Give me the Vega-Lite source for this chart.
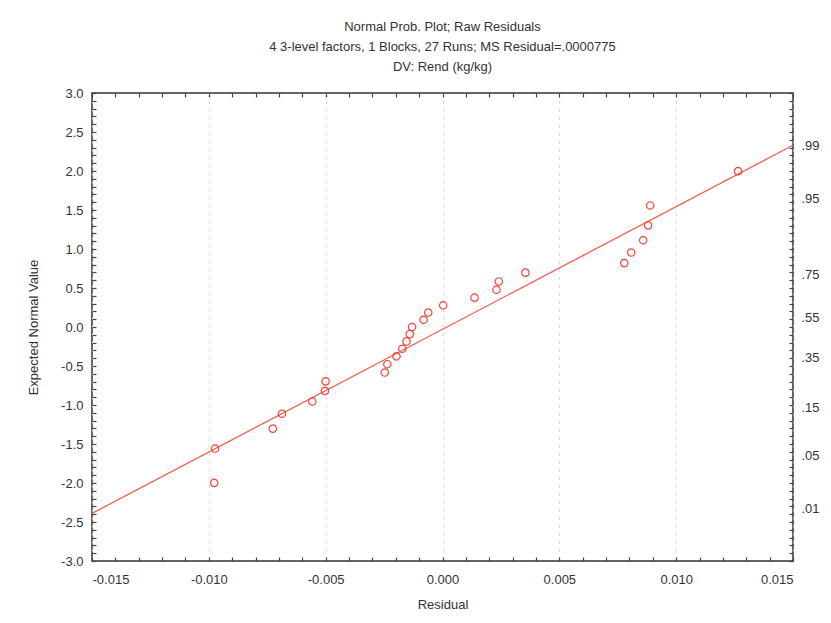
{
  "$schema": "https://vega.github.io/schema/vega-lite/v6.json",
  "autosize": "none",
  "padding": {"left": 92, "top": 93, "right": 38, "bottom": 62},
  "width": 701,
  "height": 468,
  "background": "white",
  "config": {
    "font": "Liberation Sans",
    "view": {"stroke": "#333333", "strokeWidth": 1.5},
    "axis": {"labelFont": "Liberation Sans", "titleFont": "Liberation Sans", "labelFontSize": 13, "titleFontSize": 13, "titleFontWeight": "normal", "labelColor": "#333333", "titleColor": "#333333"}
  },
  "title": {
    "text": ["Normal Prob. Plot; Raw Residuals", "4 3-level factors, 1 Blocks, 27 Runs; MS Residual=.0000775", "DV: Rend (kg/kg)"],
    "fontSize": 13,
    "fontWeight": "normal",
    "color": "#333333",
    "lineHeight": 20,
    "offset": 13,
    "anchor": "middle"
  },
  "datasets": {
    "points": [
      {"residual": 0.01265, "expected": 1.998},
      {"residual": 0.00889, "expected": 1.558},
      {"residual": 0.00880, "expected": 1.303},
      {"residual": 0.00859, "expected": 1.112},
      {"residual": 0.00808, "expected": 0.955},
      {"residual": 0.00778, "expected": 0.819},
      {"residual": 0.00355, "expected": 0.697},
      {"residual": 0.00241, "expected": 0.584},
      {"residual": 0.00231, "expected": 0.477},
      {"residual": 0.00137, "expected": 0.376},
      {"residual": 0.00003, "expected": 0.279},
      {"residual": -0.00061, "expected": 0.185},
      {"residual": -0.00081, "expected": 0.092},
      {"residual": -0.0013, "expected": 0.0},
      {"residual": -0.0014, "expected": -0.092},
      {"residual": -0.00154, "expected": -0.185},
      {"residual": -0.00172, "expected": -0.279},
      {"residual": -0.00197, "expected": -0.376},
      {"residual": -0.00236, "expected": -0.477},
      {"residual": -0.00247, "expected": -0.584},
      {"residual": -0.0050, "expected": -0.697},
      {"residual": -0.00503, "expected": -0.819},
      {"residual": -0.00557, "expected": -0.955},
      {"residual": -0.00687, "expected": -1.112},
      {"residual": -0.00726, "expected": -1.303},
      {"residual": -0.00973, "expected": -1.558},
      {"residual": -0.00977, "expected": -1.998}
    ],
    "fit": [
      {"residual": -0.015, "expected": -2.39},
      {"residual": 0.015, "expected": 2.33}
    ]
  },
  "resolve": {
    "scale": {"x": "independent", "y": "independent"},
    "axis": {"x": "independent", "y": "independent"}
  },
  "layer": [
    {
      "data": {"name": "fit"},
      "mark": {"type": "line", "color": "#f65e50", "strokeWidth": 1.3},
      "encoding": {
        "x": {"field": "residual", "type": "quantitative",
          "scale": {"domain": [-0.015, 0.015], "nice": false, "zero": false},
          "axis": {"orient": "bottom", "title": "Residual", "values": [-0.015, -0.01, -0.005, 0, 0.005, 0.01, 0.015],
            "format": ".3f", "labelExpr": "replace(datum.label, '\u2212', '-')", "ticks": false, "domain": false,
            "labelPadding": 12, "titlePadding": 12,
            "grid": true, "gridColor": "#c8c8c8", "gridDash": [2, 6], "gridWidth": 1}},
        "y": {"field": "expected", "type": "quantitative",
          "scale": {"domain": [-3, 3], "nice": false, "zero": false},
          "axis": {"orient": "left", "title": "Expected Normal Value", "values": [-3, -2.5, -2, -1.5, -1, -0.5, 0, 0.5, 1, 1.5, 2, 2.5, 3],
            "format": ".1f", "labelExpr": "replace(datum.label, '\u2212', '-')", "ticks": false, "domain": false,
            "labelPadding": 9, "titlePadding": 20, "grid": false}}
      }
    },
    {
      "data": {"name": "points"},
      "mark": {"type": "point", "shape": "circle", "filled": false, "color": "#f0463a", "size": 55, "strokeWidth": 1.2, "opacity": 1},
      "encoding": {
        "x": {"field": "residual", "type": "quantitative",
          "scale": {"domain": [-0.015, 0.015], "nice": false, "zero": false},
          "axis": {"orient": "bottom", "labels": false, "title": null, "domain": false, "grid": false,
            "values": [-0.015, -0.014, -0.013, -0.012, -0.011, -0.01, -0.009, -0.008, -0.007, -0.006, -0.005, -0.004, -0.003, -0.002, -0.001, 0, 0.001, 0.002, 0.003, 0.004, 0.005, 0.006, 0.007, 0.008, 0.009, 0.01, 0.011, 0.012, 0.013, 0.014, 0.015],
            "tickSize": -4, "tickColor": "#444444", "tickWidth": 1.2}},
        "y": {"field": "expected", "type": "quantitative",
          "scale": {"domain": [-3, 3], "nice": false, "zero": false},
          "axis": {"orient": "left", "labels": false, "title": null, "domain": false, "grid": false,
            "values": [-3, -2.9, -2.8, -2.7, -2.6, -2.5, -2.4, -2.3, -2.2, -2.1, -2, -1.9, -1.8, -1.7, -1.6, -1.5, -1.4, -1.3, -1.2, -1.1, -1, -0.9, -0.8, -0.7, -0.6, -0.5, -0.4, -0.3, -0.2, -0.1, 0, 0.1, 0.2, 0.3, 0.4, 0.5, 0.6, 0.7, 0.8, 0.9, 1, 1.1, 1.2, 1.3, 1.4, 1.5, 1.6, 1.7, 1.8, 1.9, 2, 2.1, 2.2, 2.3, 2.4, 2.5, 2.6, 2.7, 2.8, 2.9, 3],
            "tickSize": -4, "tickColor": "#444444", "tickWidth": 1.2}}
      }
    },
    {
      "data": {"name": "fit"},
      "mark": {"type": "point", "opacity": 0},
      "encoding": {
        "x": {"field": "residual", "type": "quantitative",
          "scale": {"domain": [-0.015, 0.015], "nice": false, "zero": false},
          "axis": {"orient": "top", "labels": false, "title": null, "domain": false, "grid": false,
            "values": [-0.015, -0.014, -0.013, -0.012, -0.011, -0.01, -0.009, -0.008, -0.007, -0.006, -0.005, -0.004, -0.003, -0.002, -0.001, 0, 0.001, 0.002, 0.003, 0.004, 0.005, 0.006, 0.007, 0.008, 0.009, 0.01, 0.011, 0.012, 0.013, 0.014, 0.015],
            "tickSize": -4, "tickColor": "#444444", "tickWidth": 1.2}},
        "y": {"field": "expected", "type": "quantitative",
          "scale": {"domain": [-3, 3], "nice": false, "zero": false},
          "axis": {"orient": "right", "labels": false, "title": null, "domain": false, "grid": false,
            "values": [-3, -2.9, -2.8, -2.7, -2.6, -2.5, -2.4, -2.3, -2.2, -2.1, -2, -1.9, -1.8, -1.7, -1.6, -1.5, -1.4, -1.3, -1.2, -1.1, -1, -0.9, -0.8, -0.7, -0.6, -0.5, -0.4, -0.3, -0.2, -0.1, 0, 0.1, 0.2, 0.3, 0.4, 0.5, 0.6, 0.7, 0.8, 0.9, 1, 1.1, 1.2, 1.3, 1.4, 1.5, 1.6, 1.7, 1.8, 1.9, 2, 2.1, 2.2, 2.3, 2.4, 2.5, 2.6, 2.7, 2.8, 2.9, 3],
            "tickSize": -4, "tickColor": "#444444", "tickWidth": 1.2}}
      }
    },
    {
      "data": {"name": "fit"},
      "mark": {"type": "point", "opacity": 0},
      "encoding": {
        "x": {"field": "residual", "type": "quantitative",
          "scale": {"domain": [-0.015, 0.015], "nice": false, "zero": false},
          "axis": null},
        "y": {"field": "expected", "type": "quantitative",
          "scale": {"domain": [-3, 3], "nice": false, "zero": false},
          "axis": {"orient": "right", "title": null, "domain": false, "grid": false, "ticks": false,
            "values": [2.326, 1.645, 0.674, 0.126, -0.385, -1.036, -1.645, -2.326],
            "labelExpr": "datum.value > 2 ? '.99' : datum.value > 1 ? '.95' : datum.value > 0.5 ? '.75' : datum.value > 0 ? '.55' : datum.value > -0.5 ? '.35' : datum.value > -1.2 ? '.15' : datum.value > -2 ? '.05' : '.01'",
            "labelPadding": 8}}
      }
    }
  ]
}
